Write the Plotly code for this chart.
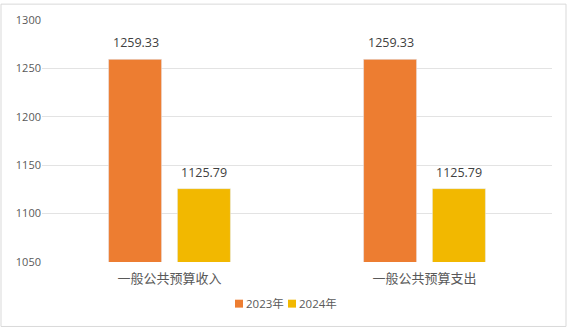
import plotly.graph_objects as go

categories = ["一般公共预算收入", "一般公共预算支出"]
series_names = ["2023年", "2024年"]
values_2023 = [1259.33, 1259.33]
values_2024 = [1125.79, 1125.79]
y_ticks = [1050, 1100, 1150, 1200, 1250, 1300]

colors = ["#ED7D31", "#F2B800"]
font_family = "Open Sans, Noto Sans CJK SC, sans-serif"

fig = go.Figure()
annotations = []
shapes = []
all_vals = [values_2023, values_2024]
offsets = [-34, 34]
for name, vals, col, off in zip(series_names, all_vals, colors, offsets):
    fig.add_trace(go.Bar(
        x=categories, y=vals, name=name, marker_color=col, showlegend=False,
    ))
    for c, v in zip(categories, vals):
        annotations.append(dict(
            x=c, y=v, xref="x", yref="y", text=f"{v:.2f}", showarrow=False,
            xshift=off, yanchor="bottom", yshift=6,
            font=dict(size=12.5, color="#404040", family=font_family),
        ))

# custom legend (compact, like the reference)
leg_y = (262 - 304) / 244
leg_x_px = [235, 288]
for name, col, xp in zip(series_names, colors, leg_x_px):
    px0 = (xp - 42) / 510
    px1 = (xp + 8 - 42) / 510
    shapes.append(dict(type="rect", xref="paper", yref="paper",
                       x0=px0, x1=px1, y0=leg_y - 4 / 244, y1=leg_y + 4 / 244,
                       fillcolor=col, line=dict(width=0)))
    annotations.append(dict(x=(xp + 9 - 42) / 510, y=leg_y, xref="paper", yref="paper",
                            text=name, showarrow=False, xanchor="left", yanchor="middle",
                            font=dict(size=11.5, color="#595959", family=font_family)))

shapes.append(dict(type="rect", xref="paper", yref="paper",
                   x0=(1 - 42) / 510, x1=(566 - 42) / 510,
                   y0=(262 - 327) / 244, y1=(262 - 2) / 244,
                   line=dict(color="#D9D9D9", width=1), fillcolor="rgba(0,0,0,0)", layer="below"))

fig.update_layout(
    width=570, height=329,
    margin=dict(l=42, r=18, t=18, b=67),
    paper_bgcolor="white", plot_bgcolor="white",
    barmode="group", bargap=0.46, bargroupgap=0.23,
    font=dict(family=font_family, color="#595959", size=11),
    showlegend=False,
    xaxis=dict(showgrid=False, showline=False, ticks="", ticklabelstandoff=7,
               tickfont=dict(size=13, color="#595959")),
    yaxis=dict(range=[1050, 1300], tickvals=y_ticks, showgrid=True, gridcolor="#E3E3E3",
               gridwidth=1, zeroline=False, showline=False, ticks="",
               tickfont=dict(size=11, color="#595959")),
    annotations=annotations,
    shapes=shapes,
)

fig.write_html("out.html")
